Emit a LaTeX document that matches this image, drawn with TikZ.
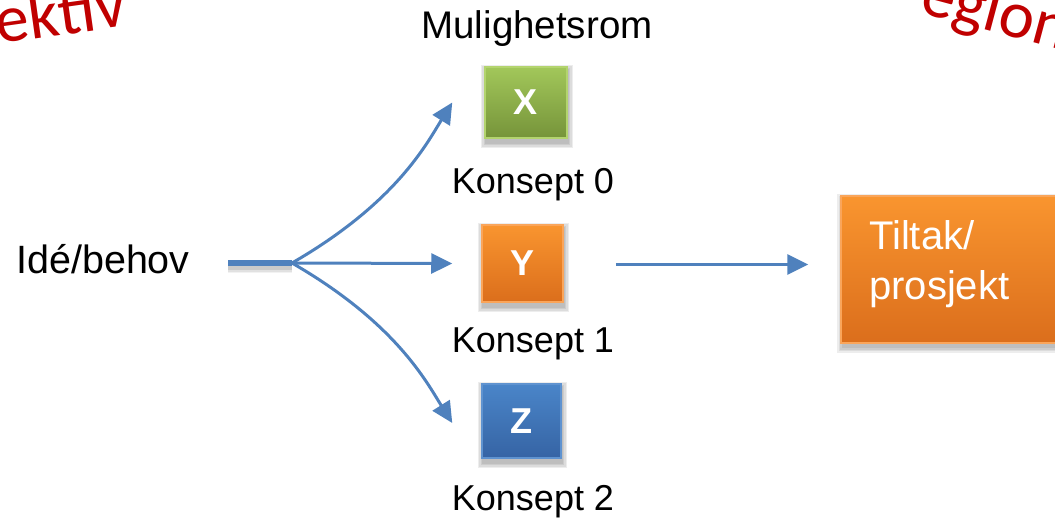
\documentclass[tikz,border=0pt]{standalone}
\usepackage{fontspec}
\setmainfont{Liberation Sans}
\newfontfamily\redfont{Carlito}
\usetikzlibrary{arrows.meta}
\definecolor{arrowblue}{HTML}{4F81BD}
\definecolor{redtxt}{HTML}{C00000}
\definecolor{gtop}{HTML}{A2C75A}
\definecolor{gbot}{HTML}{76943A}
\definecolor{gbrd}{HTML}{B3D46E}
\definecolor{otop}{HTML}{F9952F}
\definecolor{obot}{HTML}{DB6E1C}
\definecolor{obrd}{HTML}{FAA55A}
\definecolor{btop}{HTML}{4A85C9}
\definecolor{bbot}{HTML}{3664A4}
\definecolor{bbrd}{HTML}{5F93D0}
\tikzset{
  lbl/.style={font=\fontsize{36}{40}\selectfont, inner sep=0pt, anchor=base},
  letterbox/.style={minimum width=#1, inner sep=0pt, line width=1.5pt,
     font=\fontsize{36}{40}\selectfont\bfseries, text=white},
  boxshadow/.style={fill=black, opacity=0.07},
  conn/.style={draw=arrowblue, line width=3pt, -{Triangle[length=21pt,width=20pt]}},
  redlbl/.style={text=redtxt, font=\redfont\fontsize{67}{70}\selectfont, inner sep=0pt}
}
\newcommand{\shadowunder}[1]{%
  \foreach \e in {0,1.5,3,4.5}{%
    \fill[boxshadow] ([xshift=-\e pt+1pt,yshift=-5pt-\e pt]#1.south west) rectangle ([xshift=\e pt+1pt,yshift=-3pt+\e pt]#1.north east);
  }}
\begin{document}
\begin{tikzpicture}[x=1pt,y=-1pt]
\useasboundingbox (0,0) rectangle (1055,522);
\clip (0,0) rectangle (1055,522);

% red arc texts (partially visible)
\node[redlbl, anchor=base west, rotate=8] (rl) at (-2,44) {ektiv};
\node[redlbl, anchor=base west, rotate=-15] (rr) at (918,12) {egion};

% boxes (placed invisibly first to get anchors)
\path (526,102.5) node[letterbox=82pt, minimum height=71pt] (X) {};
\path (522.5,263.5) node[letterbox=81pt, minimum height=77pt] (Y) {};
\path (521.5,421) node[letterbox=79pt, minimum height=74pt] (Z) {};
\path (958,269.5) node[minimum width=234pt, minimum height=147pt, inner sep=0pt] (T) {};

\shadowunder{X}
\shadowunder{Y}
\shadowunder{Z}
\shadowunder{T}

\node[letterbox=82pt, minimum height=71pt, draw=gbrd, top color=gtop, bottom color=gbot] (X) at (526,102.5) {X};
\node[letterbox=81pt, minimum height=77pt, draw=obrd, top color=otop, bottom color=obot] (Y) at (522.5,263.5) {Y};
\node[letterbox=79pt, minimum height=74pt, draw=bbrd, top color=btop, bottom color=bbot] (Z) at (521.5,421) {Z};
\node[minimum width=234pt, minimum height=147pt, inner sep=0pt, line width=1.5pt, draw=obrd, top color=otop, bottom color=obot] (T) at (958,269.5) {};
\node[anchor=north west, inner sep=0pt, align=left, text=white,
      font=\fontsize{40}{50}\selectfont] (Tt) at (869,220) {Tiltak/\\prosjekt};

% labels
\node[lbl, font=\fontsize{38.5}{40}\selectfont] (mul) at (537,38) {Mulighetsrom};
\node[lbl] (k0) at (533,193) {Konsept 0};
\node[lbl] (k1) at (533,352) {Konsept 1};
\node[lbl] (k2) at (533,510) {Konsept 2};
\node[lbl, anchor=base west, font=\fontsize{39.5}{40}\selectfont] (ide) at (16,273) {Idé/behov};

% connectors
\coordinate (s0) at (228,263);
\coordinate (hub) at (292,263);
\coordinate (tx) at ([xshift=-32pt]X.west);
\coordinate (ty) at ([xshift=-29pt]Y.west);
\coordinate (tz) at ([xshift=-29pt,yshift=-2pt]Z.west);

\foreach \e/\o in {0/0.10,1.5/0.07,3/0.05}{
  \draw[black, opacity=\o, line width=6pt+2*\e pt] ([yshift=-4pt]s0) -- ([yshift=-4pt]hub);
}
\draw[arrowblue, line width=6.5pt] (s0) -- (hub);

\draw[conn] (hub) .. controls (396,203) and (426.5,144) .. (tx);
\draw[conn] (hub) -- (ty);
\draw[conn] (hub) .. controls (396,323) and (426.5,382) .. (tz);

\draw[conn, shorten <=52pt, shorten >=32pt] ([yshift=-1pt]Y.east) -- ([yshift=-1pt]Y.east -| T.west);
\end{tikzpicture}
\end{document}
